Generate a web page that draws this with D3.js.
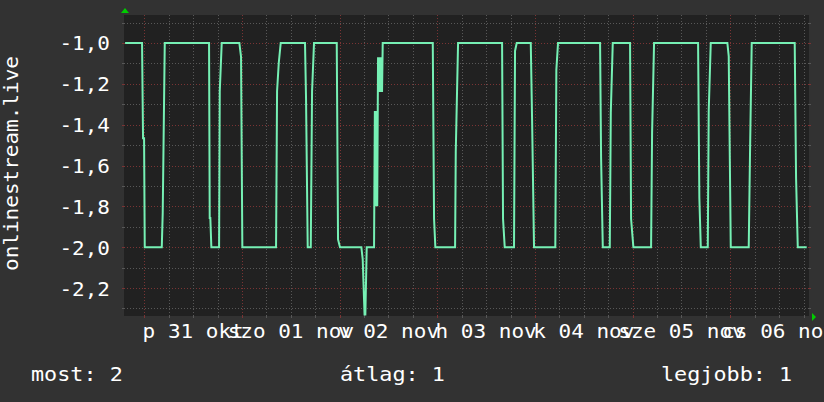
<!DOCTYPE html>
<html><head><meta charset="utf-8">
<script src="https://cdn.jsdelivr.net/npm/d3@7"></script>
<style>html,body{margin:0;padding:0;background:#323232;}svg{display:block}</style>
</head><body>
<svg id="chart" width="824" height="402"></svg>
<script>
// ---- data ----
const times = [
 "10-30 19:16","10-30 23:26","10-30 23:41","10-30 23:56","10-31 00:06","10-31 04:17","10-31 04:31","10-31 05:01",
 "10-31 15:54","10-31 16:04","10-31 16:13","10-31 16:28","10-31 18:22","10-31 18:32","10-31 19:01","10-31 23:21",
 "10-31 23:46","11-01 00:05","11-01 08:22","11-01 08:37","11-01 09:02","11-01 09:31","11-01 15:29","11-01 15:44",
 "11-01 16:09","11-01 16:54","11-01 17:13","11-01 17:42","11-01 23:17","11-01 23:36","11-02 00:05","11-02 05:20",
 "11-02 05:40","11-02 06:07","11-02 06:19","11-02 06:39","11-02 08:27","11-02 08:39","11-02 08:51","11-02 09:02",
 "11-02 09:14","11-02 09:26","11-02 09:38","11-02 09:50","11-02 10:01","11-02 10:13","11-02 10:25","11-02 10:35",
 "11-02 22:53","11-02 23:12","11-02 23:31","11-03 04:22","11-03 04:32","11-03 05:06","11-03 15:55","11-03 16:09",
 "11-03 16:34","11-03 18:51","11-03 19:06","11-03 19:31","11-03 22:58","11-03 23:17","11-03 23:46","11-04 05:00",
 "11-04 05:15","11-04 05:40","11-04 16:00","11-04 16:15","11-04 16:40","11-04 18:23","11-04 18:38","11-04 19:07",
 "11-04 23:22","11-04 23:37","11-05 00:11","11-05 04:32","11-05 04:47","11-05 05:16","11-05 16:05","11-05 16:24",
 "11-05 16:45","11-05 18:28","11-05 18:42","11-05 19:12","11-05 23:17","11-05 23:37","11-06 00:07","11-06 04:32",
 "11-06 04:51","11-06 05:16","11-06 15:50","11-06 16:10","11-06 16:35","11-06 18:47"
];
const values = [
 -1.0,-1.0,-1.466,-1.466,-2.0,-2.0,-1.832,-1.0,
 -1.0,-1.857,-1.857,-2.0,-2.0,-1.236,-1.0,-1.0,
 -1.068,-2.0,-2.0,-1.236,-1.098,-1.0,-1.0,-1.268,
 -2.0,-2.0,-1.236,-1.0,-1.0,-1.962,-2.0,-2.0,
 -2.06,-2.33,-2.33,-2.0,-2.0,-1.333,-1.8,-1.333,
 -1.8,-1.07,-1.24,-1.07,-1.24,-1.07,-1.24,-1.0,
 -1.0,-1.861,-2.0,-2.0,-1.532,-1.0,-1.0,-1.861,
 -2.0,-2.0,-1.039,-1.0,-1.0,-1.366,-2.0,-2.0,
 -1.133,-1.0,-1.0,-1.564,-2.0,-2.0,-1.341,-1.0,
 -1.0,-1.861,-2.0,-2.0,-1.439,-1.0,-1.0,-1.759,
 -2.0,-2.0,-1.333,-1.0,-1.0,-1.065,-2.0,-2.0,
 -1.54,-1.0,-1.0,-1.662,-2.0,-2.0
];
const yTickValues = [-2.2,-2.0,-1.8,-1.6,-1.4,-1.2,-1.0];
const yTickLabels = ["-2,2","-2,0","-1,8","-1,6","-1,4","-1,2","-1,0"];
const dayLabels = ["p 31 okt","szo 01 nov","v 02 nov","h 03 nov","k 04 nov","sze 05 nov","cs 06 nov"];
const dayLabelTimes = ["10-31 12:00","11-01 12:00","11-02 12:00","11-03 12:00","11-04 12:00","11-05 12:00","11-06 12:00"];
const legendTexts = ["most: 2","átlag: 1","legjobb: 1"];
const yTitle = "onlinestream.live";
const timeRange = ["10-30 19:00","11-06 19:00"];
const yRange = [-2.337,-0.863];

// ---- chart ----
const parse = s => d3.timeParse("%Y-%m-%d %H:%M")("2025-" + s);
const data = times.map((t,i)=>({t:parse(t), v:values[i]}));

const svg = d3.select("#chart");
const W = 824, H = 402;
const L = 124, R = 809, T = 15, B = 316;

const x = d3.scaleTime().domain(timeRange.map(parse)).range([124, 807.6]);
const y = d3.scaleLinear().domain(yRange).range([B, T]);

svg.append("rect").attr("width",W).attr("height",H).attr("fill","#323232");
svg.append("rect").attr("x",L).attr("y",T).attr("width",R-L).attr("height",B-T).attr("fill","#212121");

const minorCol = "#585858", majorCol = "#7a3434";
const g = svg.append("g");

// horizontal grid
const yMinor = d3.range(-23,-8).map(k=>k/10);
yMinor.forEach(v=>{
  const isMajor = yTickValues.some(t=>Math.abs(t-v)<1e-6);
  const yy = Math.round(y(v))+0.5;
  g.append("line").attr("x1",L).attr("x2",R).attr("y1",yy).attr("y2",yy)
   .attr("stroke", isMajor?majorCol:minorCol).attr("stroke-width",1).attr("stroke-dasharray","1,2");
  g.append("line").attr("x1",L-2).attr("x2",L).attr("y1",yy).attr("y2",yy).attr("stroke",isMajor?majorCol:minorCol);
  g.append("line").attr("x1",R).attr("x2",R+2).attr("y1",yy).attr("y2",yy).attr("stroke",isMajor?majorCol:minorCol);
});
// vertical grid
const xMinor = d3.timeHour.every(6).range(x.domain()[0], x.domain()[1]);
xMinor.forEach(d=>{
  const isMajor = d.getHours()===0;
  const xx = Math.round(x(d))+0.5;
  g.append("line").attr("x1",xx).attr("x2",xx).attr("y1",T).attr("y2",B)
   .attr("stroke", isMajor?majorCol:minorCol).attr("stroke-width",1).attr("stroke-dasharray","1,2");
  g.append("line").attr("x1",xx).attr("x2",xx).attr("y1",B).attr("y2",B+2).attr("stroke",isMajor?majorCol:minorCol);
});

// axis arrows
svg.append("path").attr("d",`M${L-3},${T-2}L${L+1},${T-7}L${L+5},${T-2}Z`).attr("fill","#00cc00");
svg.append("path").attr("d",`M${R+3},${B-3}L${R+7},${B+1}L${R+3},${B+5}Z`).attr("fill","#00cc00");

// line
svg.append("path").datum(data)
  .attr("d", d3.line().x(d=>x(d.t)).y(d=>y(d.v)))
  .attr("fill","none").attr("stroke","#76f0b4").attr("stroke-width",2).attr("stroke-linejoin","miter");

const font = "DejaVu Sans Mono";
const sx = 1.05;
// y tick labels
yTickValues.forEach((v,i)=>{
  svg.append("text").attr("transform",`translate(110,${y(v)+7.5}) scale(${sx},1)`)
   .attr("text-anchor","end").attr("font-family",font).attr("font-size",20).attr("fill","#ffffff").text(yTickLabels[i]);
});
// x labels
dayLabels.forEach((s,i)=>{
  svg.append("text").attr("transform",`translate(${x(parse(dayLabelTimes[i]))},338.3) scale(${sx},1)`)
   .attr("text-anchor","middle").attr("font-family",font).attr("font-size",20).attr("fill","#ffffff").text(s);
});
// y title
svg.append("text").attr("transform",`translate(18.3,${(T+B)/2-2}) rotate(-90) scale(${sx},1)`)
  .attr("text-anchor","middle").attr("font-family",font).attr("font-size",20).attr("fill","#ffffff").text(yTitle);
// legend
const lx = [31, 340, 661];
legendTexts.forEach((s,i)=>{
  svg.append("text").attr("transform",`translate(${lx[i]},381) scale(1.09,1)`)
   .attr("font-family",font).attr("font-size",20).attr("fill","#ffffff").text(s);
});
</script>
</body></html>
